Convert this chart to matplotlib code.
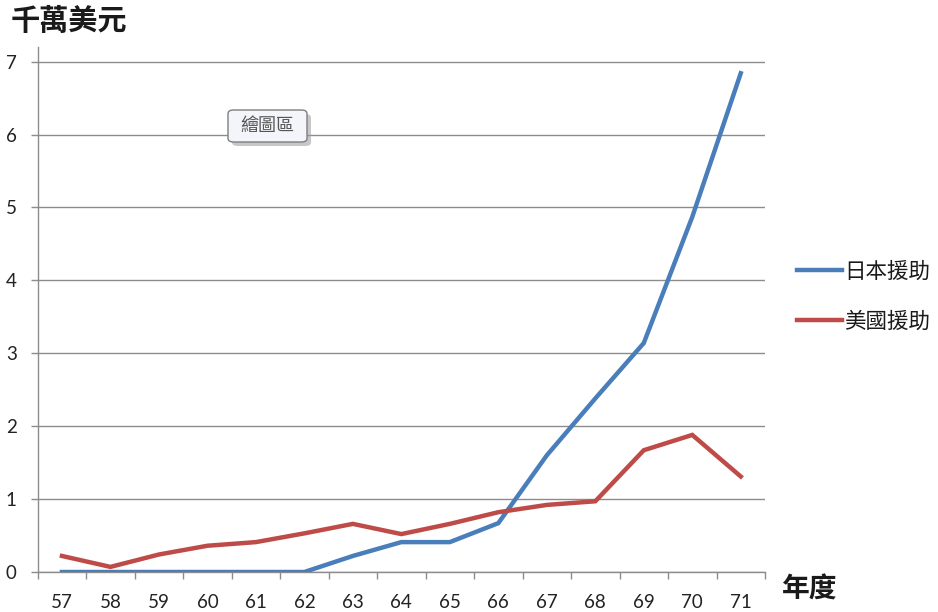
import matplotlib
matplotlib.use("Agg")
import matplotlib.pyplot as plt
from matplotlib.ticker import FixedLocator
from matplotlib.patches import FancyBboxPatch
import numpy as np

plt.rcParams['font.family'] = ['Lato', 'Noto Sans CJK TC', 'DejaVu Sans']

# 年度 (民國紀年)
years = ['57', '58', '59', '60', '61', '62', '63', '64', '65', '66', '67', '68', '69', '70', '71']
# 單位: 千萬美元
japan_aid = [0, 0, 0, 0, 0, 0, 0.22, 0.41, 0.41, 0.67, 1.60, 2.38, 3.14, 4.87, 6.84]
us_aid = [0.22, 0.07, 0.24, 0.36, 0.41, 0.53, 0.66, 0.52, 0.66, 0.82, 0.92, 0.97, 1.67, 1.88, 1.31]
series_labels = ['日本援助', '美國援助']
y_ticks = [0, 1, 2, 3, 4, 5, 6, 7]

W, H = 938, 612
fig = plt.figure(figsize=(W / 100, H / 100), dpi=100)
fig.patch.set_facecolor('white')

left, right, bottom, top = 37.7, 765, 572, 47
ax = fig.add_axes([left / W, 1 - bottom / H, (right - left) / W, (bottom - top) / H])

x = np.arange(len(years))
blue = '#4A7EBB'
red = '#BE4B48'
ax.plot(x, japan_aid, color=blue, lw=3.2, solid_joinstyle='miter', label=series_labels[0], zorder=3)
ax.plot(x, us_aid, color=red, lw=3.2, solid_joinstyle='miter', label=series_labels[1], zorder=3)

ax.set_xlim(-0.5, len(years) - 0.5)
ax.set_ylim(0, 7.2)

grid_c = '#8C8C8C'
ax.set_yticks(y_ticks)
ax.set_yticklabels([str(v) for v in y_ticks])
ax.yaxis.grid(True, color=grid_c, lw=1.0)
ax.set_axisbelow(True)

ax.set_xticks(x)
ax.set_xticklabels(years)
ax.xaxis.set_minor_locator(FixedLocator(np.arange(len(years) + 1) - 0.5))
ax.tick_params(axis='x', which='major', length=0, pad=16, labelsize=13.5, colors='#222222')
ax.tick_params(axis='x', which='minor', length=5, width=1, color=grid_c, direction='out')
ax.tick_params(axis='y', which='major', length=5, width=1, color=grid_c, pad=10,
               labelsize=13.5, labelcolor='#222222')

for s in ['top', 'right']:
    ax.spines[s].set_visible(False)
for s in ['left', 'bottom']:
    ax.spines[s].set_color(grid_c)
    ax.spines[s].set_linewidth(1.0)

cjk = ['Noto Sans CJK TC', 'DejaVu Sans']
fig.text(11 / W, 1 - 21 / H, '千萬美元', fontsize=21, fontweight='bold', family=cjk,
         ha='left', va='center', color='#1a1a1a')
fig.text(782 / W, 1 - 590 / H, '年度', fontsize=20, fontweight='bold', family=cjk,
         ha='left', va='center', color='#1a1a1a')

# plot-area tooltip with drop shadow
bx0, by0, bw, bh = 228, 110, 79, 32
shadow = FancyBboxPatch(((bx0 + 4) / W, 1 - (by0 + bh + 4) / H), bw / W, bh / H,
                        boxstyle='round,pad=0,rounding_size=0.006', transform=fig.transFigure,
                        fc='#9a9a9a', ec='none', alpha=0.55, zorder=5)
box = FancyBboxPatch((bx0 / W, 1 - (by0 + bh) / H), bw / W, bh / H,
                     boxstyle='round,pad=0,rounding_size=0.006', transform=fig.transFigure,
                     fc='#f3f5fa', ec='#7f7f7f', lw=1, zorder=6)
fig.add_artist(shadow)
fig.add_artist(box)
fig.text((bx0 + bw / 2) / W, 1 - (by0 + bh / 2) / H, '繪圖區', fontsize=13, family=cjk,
         ha='center', va='center', color='#555555', zorder=7)

leg = fig.legend(loc='upper left', bbox_to_anchor=(797 / W, 1 - 261 / H), frameon=False,
                 prop={'family': cjk, 'size': 15.5}, handlelength=2.1, handletextpad=0.1,
                 labelspacing=1.3, borderpad=0, borderaxespad=0)
for t in leg.get_texts():
    t.set_color('#1a1a1a')

fig.savefig('out.png', dpi=100)
